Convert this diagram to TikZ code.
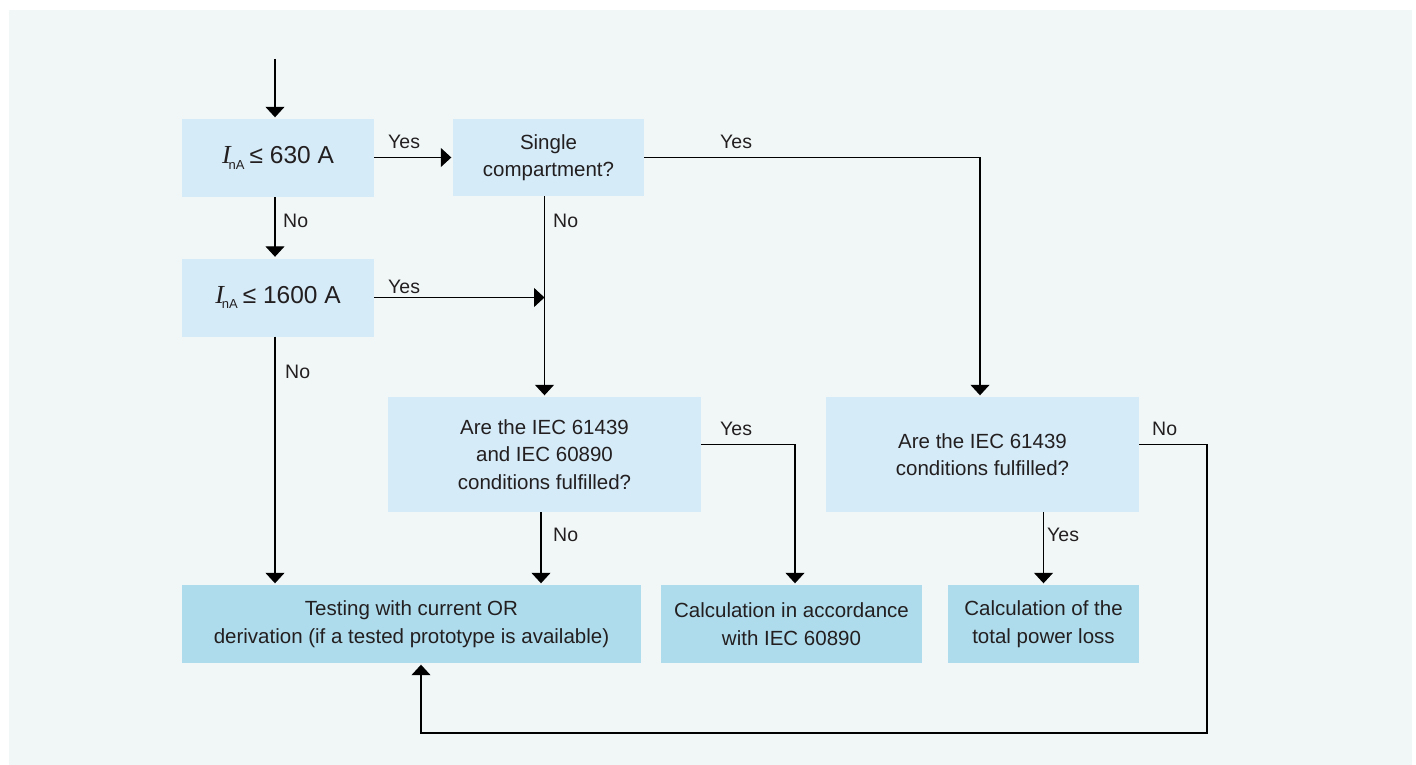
\documentclass[tikz,border=0pt]{standalone}
\usepackage{fontspec}
\setmainfont{Liberation Sans}
\newfontfamily\serifit{Liberation Serif}
\usetikzlibrary{arrows.meta,calc}
\definecolor{bg}{RGB}{241,247,247}
\definecolor{qbox}{RGB}{213,235,248}
\definecolor{rbox}{RGB}{174,220,236}
\definecolor{txt}{RGB}{35,31,32}
\begin{document}
\begin{tikzpicture}[x=1pt,y=-1pt,
  every node/.style={text=txt},
  qstyle/.style={fill=qbox, inner sep=0pt, align=center, font=\fontsize{20.5}{27.5}\selectfont},
  rstyle/.style={fill=rbox, inner sep=0pt, align=center, font=\fontsize{20.5}{27.5}\selectfont},
  arr/.style={draw=black, line width=1.2pt, -{Triangle[width=19pt,length=10.5pt]}, shorten >=1.5pt},
  arrl/.style={draw=black, line width=1.2pt, -{Triangle[width=19pt,length=10.5pt]}},
  lbl/.style={anchor=base west, inner sep=0pt, font=\fontsize{19.5}{24}\selectfont}
]
\useasboundingbox (0,0) rectangle (1416,765);
\fill[white] (0,0) rectangle (1416,765);
\fill[bg] (9,10) rectangle (1412,765);

\newcommand{\Ina}[1]{{\fontsize{24.5}{28}\selectfont{\serifit\itshape\fontsize{26}{28}\selectfont I}\hspace{-2pt}\raisebox{-5.5pt}{\fontsize{13}{14}\selectfont nA}\hspace{5pt}≤ #1}}

\node[qstyle, minimum width=192pt, minimum height=78pt] (b1) at (278,158) {\Ina{630 A}};
\node[qstyle, minimum width=192pt, minimum height=78pt] (b2) at (278,297.5) {\Ina{1600 A}};
\node[qstyle, minimum width=191pt, minimum height=77pt] (b3) at (548.5,157.5) {Single\\compartment?};
\node[qstyle, minimum width=313pt, minimum height=115pt] (b4) at (544.5,454.5) {Are the IEC 61439\\and IEC 60890\\conditions fulfilled?};
\node[qstyle, minimum width=313pt, minimum height=115pt] (b5) at (982.5,454.5) {Are the IEC 61439\\conditions fulfilled?};
\node[rstyle, minimum width=459pt, minimum height=78pt] (b6) at (411.5,624) {Testing with current OR\\derivation (if a tested prototype is available)};
\node[rstyle, minimum width=261pt, minimum height=78pt] (b7) at (791.5,624) {Calculation in accordance\\with IEC 60890};
\node[rstyle, minimum width=191pt, minimum height=78pt] (b8) at (1043.5,624) {Calculation of the\\total power loss};

\coordinate (start) at (275,59);
\coordinate (c1) at (1207,733);

\draw[arr] (start) -- ([xshift=-3pt]b1.north);
\draw[arr] ([xshift=-3pt]b1.south) -- ([xshift=-3pt]b2.north);
\draw[arr] (b1.east |- b3.east) -- (b3.west);
\draw[arr] (b3.east) -| ([xshift=-2.5pt]b5.north);
\draw[arr] (b4.north |- b3.south) -- (b4.north);
\draw[arrl] (b2.east) -- (b2.east -| b4.north);
\draw[arr] ([xshift=-3pt]b2.south) -- ([xshift=-3pt]b2.south |- b6.north);
\draw[arr] ([yshift=10pt]b4.east) -| ([xshift=3.5pt]b7.north);
\draw[arr] ([xshift=-3.5pt]b4.south) -- ([xshift=-3.5pt]b4.south |- b6.north);
\draw[arr] (b8.north |- b5.south) -- (b8.north);
\draw[arr] ([yshift=10pt]b5.east) -| (c1) -| ([xshift=9.5pt]b6.south);

\node[lbl] (l1) at (388,149) {Yes};
\node[lbl] (l2) at (720,149) {Yes};
\node[lbl] (l3) at (283,227) {No};
\node[lbl] (l4) at (553,227) {No};
\node[lbl] (l5) at (388,293) {Yes};
\node[lbl] (l6) at (285,378) {No};
\node[lbl] (l7) at (720,435) {Yes};
\node[lbl] (l8) at (1152,435) {No};
\node[lbl] (l9) at (553,541) {No};
\node[lbl] (l10) at (1047,541) {Yes};
\end{tikzpicture}
\end{document}
